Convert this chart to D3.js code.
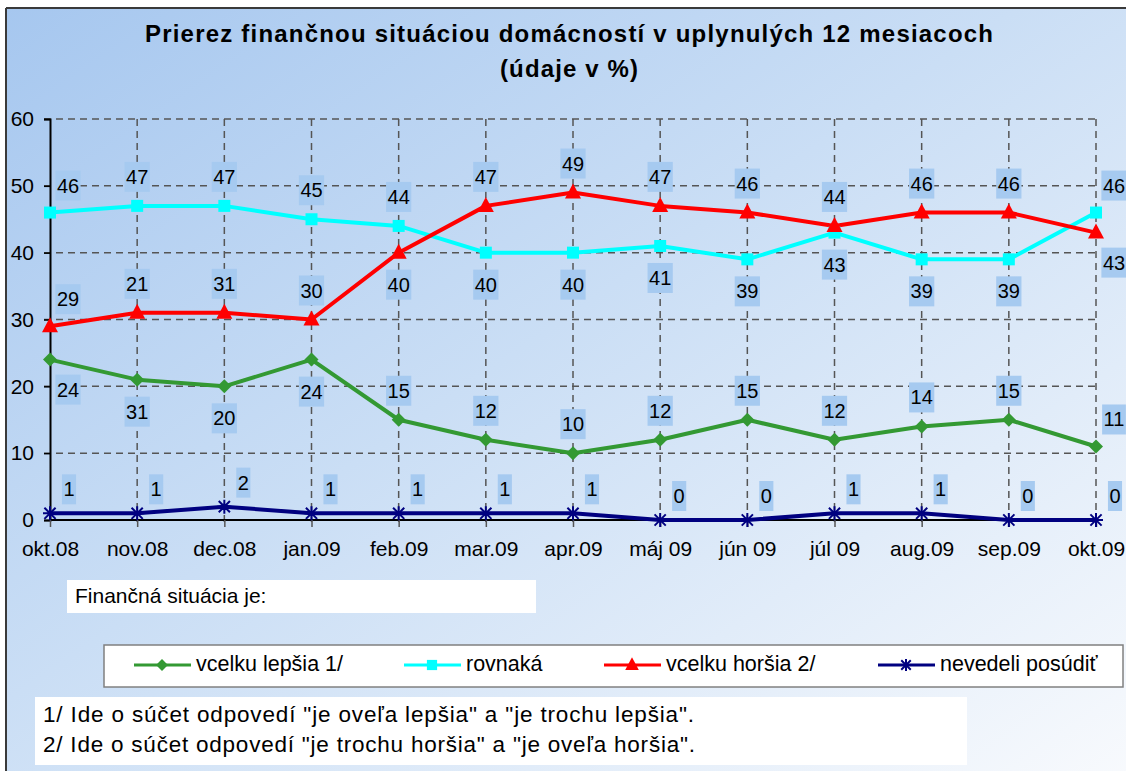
<!DOCTYPE html>
<html><head><meta charset="utf-8">
<script src="https://cdn.jsdelivr.net/npm/d3@7"></script>
<style>body{margin:0;background:#fff;overflow:hidden}svg{display:block}text{font-family:"Liberation Sans",Arial,sans-serif}</style>
</head><body>
<script>
const months = ["okt.08","nov.08","dec.08","jan.09","feb.09","mar.09","apr.09","máj 09","jún 09","júl 09","aug.09","sep.09","okt.09"];
const lepsia = [24,21,20,24,15,12,10,12,15,12,14,15,11];
const lepsiaLabels = ["24","31","20","24","15","12","10","12","15","12","14","15","11"];
const lepsiaPos = ["br","b","b","b","t","t","t","t","t","t","t","t","tr"];
const rovnaka = [46,47,47,45,44,40,40,41,39,43,39,39,46];
const rovnakaLabels = ["46","47","47","45","44","40","40","41","39","43","39","39","46"];
const rovnakaPos = ["tr","t","t","t","t","b","b","b","b","b","b","b","tr"];
const horsia = [29,31,31,30,40,47,49,47,46,44,46,46,43];
const horsiaLabels = ["29","21","31","30","40","47","49","47","46","44","46","46","43"];
const horsiaPos = ["tr","t","t","t","b","t","t","t","t","t","t","t","br"];
const nevedeli = [1,1,2,1,1,1,1,0,0,1,1,0,0];
const nevedeliLabels = ["1","1","2","1","1","1","1","0","0","1","1","0","0"];
const nevedeliPos = ["tr","tr","tr","tr","tr","tr","tr","tr","tr","tr","tr","tr","tr"];
const yTicks = [0,10,20,30,40,50,60];
const seriesNames = ["vcelku lepšia 1/","rovnaká","vcelku horšia 2/","nevedeli posúdiť"];
const titleLines = ["Prierez finančnou situáciou domácností v uplynulých 12 mesiacoch","(údaje v %)"];
const subtitle = "Finančná situácia je:";
const notes = ["1/ Ide o súčet odpovedí \"je oveľa lepšia\" a \"je trochu lepšia\".","2/ Ide o súčet odpovedí \"je trochu horšia\" a \"je oveľa horšia\"."];

const W=1126,H=771;
const svg=d3.select("body").append("svg").attr("width",W).attr("height",H);
const defs=svg.append("defs");
const grad=defs.append("linearGradient").attr("id","bg").attr("x1","0").attr("y1","0").attr("x2","1").attr("y2","1");
grad.append("stop").attr("offset","0").attr("stop-color","#a6c7ef");
grad.append("stop").attr("offset","0.45").attr("stop-color","#cadef5");
grad.append("stop").attr("offset","1").attr("stop-color","#f8fafd");
svg.append("rect").attr("x",6).attr("y",8).attr("width",W).attr("height",H).attr("fill","url(#bg)");
svg.append("line").attr("x1",6).attr("x2",6).attr("y1",8).attr("y2",H).attr("stroke","#3a3a3a").attr("stroke-width",2);
svg.append("line").attr("x1",6).attr("x2",W).attr("y1",8).attr("y2",8).attr("stroke","#3a3a3a").attr("stroke-width",2);

// title
svg.append("text").attr("x",145).attr("y",42).attr("font-size",24).attr("font-weight","bold")
  .attr("textLength",848).attr("lengthAdjust","spacing").text(titleLines[0]);
svg.append("text").attr("x",500).attr("y",77).attr("font-size",24).attr("font-weight","bold")
  .attr("textLength",138).attr("lengthAdjust","spacing").text(titleLines[1]);

const x=d3.scalePoint().domain(months).range([50,1096]);
const y=d3.scaleLinear().domain([0,60]).range([520,119]);

// grid
const g=svg.append("g");
g.selectAll(".hg").data(yTicks.filter(t=>t>0)).join("line")
 .attr("x1",44).attr("x2",1096).attr("y1",d=>y(d)).attr("y2",d=>y(d))
 .attr("stroke","#555").attr("stroke-width",1.5).attr("stroke-dasharray","7,5");
g.selectAll(".vg").data(months.slice(1)).join("line")
 .attr("x1",d=>x(d)).attr("x2",d=>x(d)).attr("y1",119).attr("y2",527)
 .attr("stroke","#555").attr("stroke-width",1.5).attr("stroke-dasharray","7,5");
// axes
const yAxis=d3.axisLeft(y).tickValues(yTicks).tickSize(6).tickPadding(10);
const ya=svg.append("g").attr("transform","translate(50,0)").call(yAxis);
ya.select(".domain").attr("stroke","#000").attr("stroke-width",2);
ya.selectAll(".tick line").attr("stroke","#000").attr("stroke-width",1.5);
ya.selectAll(".tick text").attr("font-size",21).attr("fill","#000").attr("font-family","Liberation Sans, Arial, sans-serif");
const xAxis=d3.axisBottom(x).tickSize(7).tickPadding(14);
const xa=svg.append("g").attr("transform","translate(0,520)").call(xAxis);
xa.select(".domain").attr("stroke","#000").attr("stroke-width",2).attr("d","M50,0H1096");
xa.selectAll(".tick line").attr("stroke","#555").attr("stroke-width",1.5);
xa.selectAll(".tick text").attr("font-size",21).attr("fill","#000").attr("font-family","Liberation Sans, Arial, sans-serif");

const series=[
 {name:seriesNames[0],vals:lepsia,labels:lepsiaLabels,pos:lepsiaPos,color:"#339933",marker:"diamond"},
 {name:seriesNames[1],vals:rovnaka,labels:rovnakaLabels,pos:rovnakaPos,color:"#00ffff",marker:"square"},
 {name:seriesNames[2],vals:horsia,labels:horsiaLabels,pos:horsiaPos,color:"#ff0000",marker:"triangle"},
 {name:seriesNames[3],vals:nevedeli,labels:nevedeliLabels,pos:nevedeliPos,color:"#000080",marker:"star"}
];
function drawMarker(sel,type,color,cx,cy,k){
  k=k||1;
  if(type==="diamond") sel.append("path").attr("d",`M${cx},${cy-7*k}L${cx+7*k},${cy}L${cx},${cy+7*k}L${cx-7*k},${cy}Z`).attr("fill",color);
  else if(type==="square") sel.append("rect").attr("x",cx-6*k).attr("y",cy-6*k).attr("width",12*k).attr("height",12*k).attr("fill",color);
  else if(type==="triangle") sel.append("path").attr("d",`M${cx},${cy-9*k}L${cx+8*k},${cy+6*k}L${cx-8*k},${cy+6*k}Z`).attr("fill",color);
  else if(type==="star"){
    const r=7*k;
    sel.append("path").attr("d",`M${cx-r},${cy}H${cx+r}M${cx-r*0.8},${cy-r*0.8}L${cx+r*0.8},${cy+r*0.8}M${cx-r*0.8},${cy+r*0.8}L${cx+r*0.8},${cy-r*0.8}M${cx},${cy-r}V${cy+r}`).attr("stroke",color).attr("stroke-width",2).attr("fill","none");
  }
}
const line=d3.line().x((d,i)=>x(months[i])).y(d=>y(d));
series.forEach(s=>{
  svg.append("path").datum(s.vals).attr("d",line).attr("fill","none").attr("stroke",s.color).attr("stroke-width",4).attr("stroke-linejoin","round");
});
series.forEach(s=>{
  const mg=svg.append("g");
  s.vals.forEach((v,i)=>drawMarker(mg,s.marker,s.color,x(months[i]),y(v)));
});
const offs={t:[0,-29],b:[0,32],tr:[18,-27],br:[18,30]};
series.forEach((s,si)=>{
  const lg=svg.append("g");
  s.vals.forEach((v,i)=>{
    let [dx,dy]=offs[s.pos[i]];
    if(si===3){dx=19;dy=-24;}
    const cx=x(months[i])+dx, cy=y(v)+dy;
    const grp=lg.append("g");
    const r=grp.append("rect").attr("fill","#a6caf0");
    const t=grp.append("text").attr("x",cx).attr("y",cy+7).attr("text-anchor","middle").attr("font-size",20).attr("fill","#000").text(s.labels[i]);
    const w=t.node().getComputedTextLength()+3;
    r.attr("x",cx-w/2).attr("y",cy-15).attr("width",w).attr("height",30);
  });
});

// subtitle box
svg.append("rect").attr("x",67).attr("y",580).attr("width",469).attr("height",33).attr("fill","#fff");
svg.append("text").attr("x",75).attr("y",603).attr("font-size",21).attr("fill","#000").text(subtitle);

// legend
svg.append("rect").attr("x",104).attr("y",645).attr("width",1019).attr("height",42).attr("fill","#fff").attr("stroke","#808080").attr("stroke-width",1.5);
const legX=[134,404,604,878];
series.forEach((s,i)=>{
  const lx=legX[i], ly=665;
  svg.append("line").attr("x1",lx).attr("x2",lx+57).attr("y1",ly).attr("y2",ly).attr("stroke",s.color).attr("stroke-width",3);
  drawMarker(svg,s.marker,s.color,lx+28,ly,0.85);
  svg.append("text").attr("x",lx+62).attr("y",ly+6).attr("font-size",21.5).attr("fill","#000").text(s.name);
});

// notes
svg.append("rect").attr("x",35).attr("y",697).attr("width",932).attr("height",68).attr("fill","#fff");
svg.append("text").attr("x",43).attr("y",722).attr("font-size",22.5).attr("fill","#000")
  .attr("textLength",651).attr("lengthAdjust","spacing").text(notes[0]);
svg.append("text").attr("x",43).attr("y",752).attr("font-size",22.5).attr("fill","#000")
  .attr("textLength",652).attr("lengthAdjust","spacing").text(notes[1]);
</script>
</body></html>
